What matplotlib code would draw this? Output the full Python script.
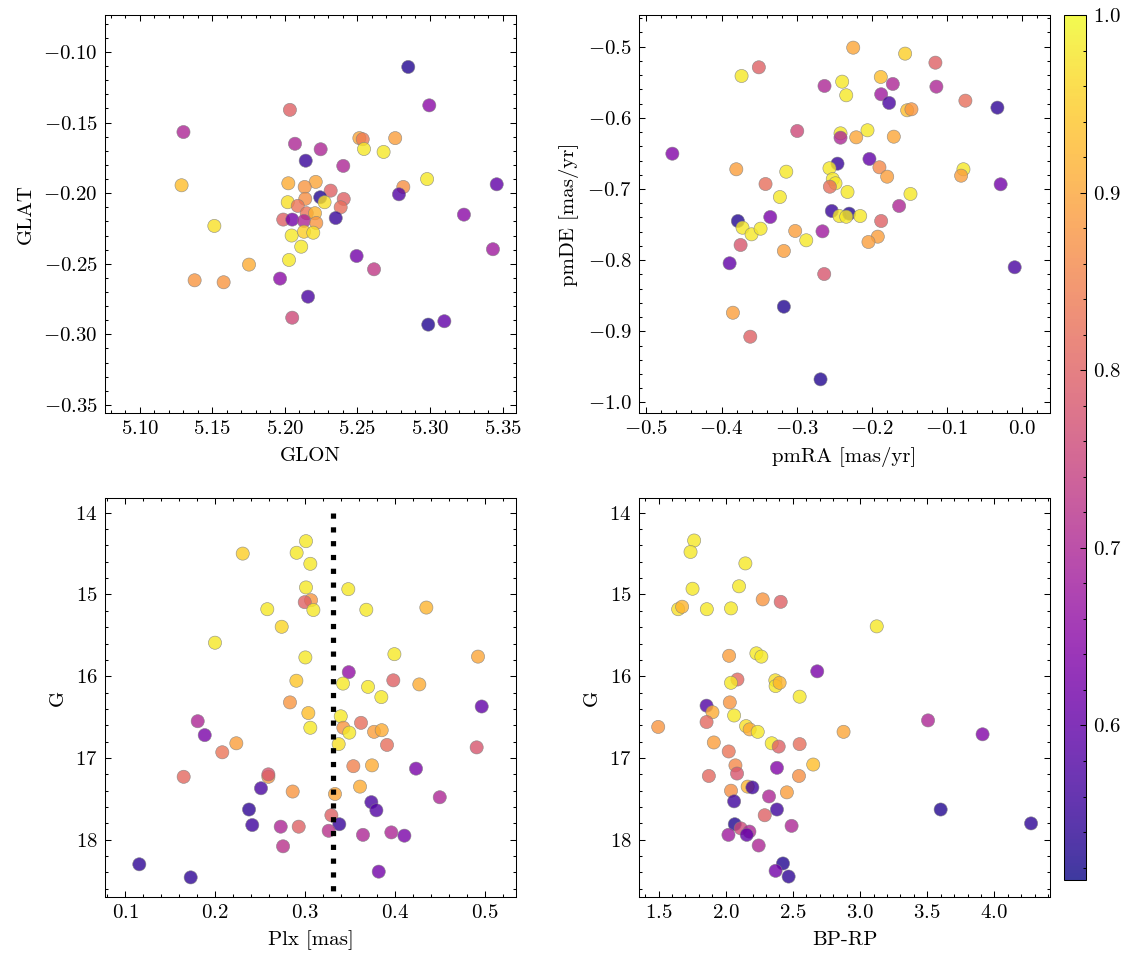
import matplotlib
matplotlib.use("Agg")
import matplotlib.pyplot as plt
from matplotlib.ticker import AutoMinorLocator, MultipleLocator

# science-like style
plt.rcParams.update({
    "font.family": "cmr10",
    "mathtext.fontset": "cm",
    "axes.formatter.use_mathtext": True,
    "font.size": 10,
    "axes.linewidth": 0.5,
    "xtick.direction": "in",
    "ytick.direction": "in",
    "xtick.top": True,
    "ytick.right": True,
    "xtick.major.size": 3,
    "ytick.major.size": 3,
    "xtick.minor.size": 1.5,
    "ytick.minor.size": 1.5,
    "xtick.major.width": 0.5,
    "ytick.major.width": 0.5,
    "xtick.minor.width": 0.5,
    "ytick.minor.width": 0.5,
    "xtick.minor.visible": True,
    "ytick.minor.visible": True,
})

# panel 1: GLON / GLAT
glon = [5.285, 5.2995, 5.2034, 5.130, 5.2069, 5.2246, 5.2143, 5.2402, 5.2513, 5.2536,
        5.2545, 5.268, 5.276, 5.1287, 5.1513, 5.298, 5.2816, 5.2786, 5.346, 5.3234,
        5.2023, 5.2212, 5.2136, 5.2315, 5.2405, 5.2384, 5.2243, 5.2273, 5.2019, 5.214,
        5.2088, 5.215, 5.2207, 5.235, 5.1988, 5.205, 5.2131, 5.2216, 5.2046, 5.2131,
        5.2195, 5.2112, 5.2028, 5.1752, 5.1377, 5.1577, 5.1966, 5.2494, 5.2614, 5.2159,
        5.205, 5.2988, 5.3099, 5.3434]
glat = [-0.1106, -0.1378, -0.141, -0.1567, -0.165, -0.1689, -0.177, -0.1807, -0.161, -0.1618,
        -0.1687, -0.1708, -0.161, -0.1944, -0.2232, -0.190, -0.1956, -0.2008, -0.1937, -0.2152,
        -0.193, -0.192, -0.1956, -0.1982, -0.2041, -0.210, -0.2029, -0.2064, -0.2064, -0.204,
        -0.209, -0.2142, -0.2142, -0.2176, -0.2187, -0.2187, -0.2197, -0.2211, -0.230, -0.2273,
        -0.228, -0.2379, -0.2473, -0.2506, -0.2617, -0.2631, -0.2605, -0.2445, -0.2539, -0.2733,
        -0.2882, -0.2931, -0.2907, -0.2397]
prob1 = [0.53, 0.65, 0.80, 0.70, 0.70, 0.70, 0.55, 0.70, 0.90, 0.84,
         0.98, 0.98, 0.89, 0.93, 0.97, 0.98, 0.87, 0.58, 0.60, 0.65,
         0.91, 0.90, 0.88, 0.80, 0.80, 0.82, 0.53, 0.97, 0.97, 0.87,
         0.83, 0.83, 0.92, 0.55, 0.80, 0.62, 0.70, 0.88, 0.98, 0.95,
         0.97, 0.98, 0.98, 0.91, 0.88, 0.88, 0.65, 0.62, 0.73, 0.57,
         0.76, 0.53, 0.60, 0.68]

# panel 2: proper motions
pmra = [-0.4654, -0.3733, -0.3503, -0.3803, -0.3138, -0.3414, -0.3223, -0.2992, -0.2629, -0.2247,
        -0.2394, -0.234, -0.188, -0.1556, -0.1153, -0.172, -0.114, -0.1875, -0.1769, -0.1529,
        -0.1472, -0.0754, -0.0328, -0.2416, -0.2416, -0.2207, -0.2057, -0.1707, -0.2456, -0.2031,
        -0.2563, -0.2519, -0.2483, -0.2558, -0.2323, -0.1898, -0.1795, -0.1485, -0.078, -0.0811,
        -0.0285, -0.1636, -0.3782, -0.372, -0.36, -0.348, -0.3351, -0.3746, -0.3892, -0.3019,
        -0.317, -0.2872, -0.2656, -0.2532, -0.2430, -0.2301, -0.234, -0.2154, -0.1875, -0.192,
        -0.2044, -0.2633, -0.0098, -0.3848, -0.317, -0.3617, -0.2682]
pmde = [-0.6504, -0.5412, -0.529, -0.6723, -0.6757, -0.693, -0.7113, -0.6185, -0.5552, -0.5014,
        -0.5492, -0.5683, -0.5426, -0.5098, -0.5225, -0.5524, -0.5562, -0.5669, -0.5791, -0.5894,
        -0.588, -0.5759, -0.5857, -0.6218, -0.6279, -0.6274, -0.6175, -0.6265, -0.6644, -0.6578,
        -0.6709, -0.686, -0.692, -0.6968, -0.7042, -0.6695, -0.6827, -0.707, -0.6723, -0.6813,
        -0.6934, -0.7239, -0.745, -0.7544, -0.7637, -0.7558, -0.7394, -0.7787, -0.8044, -0.759,
        -0.7871, -0.7721, -0.7595, -0.7309, -0.738, -0.7347, -0.739, -0.738, -0.745, -0.767,
        -0.7745, -0.8195, -0.81, -0.8739, -0.8654, -0.9076, -0.9675]
prob2 = [0.64, 0.98, 0.80, 0.89, 0.98, 0.82, 0.98, 0.76, 0.70, 0.90,
         0.98, 0.98, 0.93, 0.95, 0.80, 0.70, 0.70, 0.68, 0.57, 0.93,
         0.88, 0.82, 0.54, 0.98, 0.70, 0.90, 0.98, 0.90, 0.55, 0.60,
         0.98, 0.98, 0.98, 0.82, 0.98, 0.86, 0.89, 0.98, 0.98, 0.89,
         0.62, 0.70, 0.53, 0.98, 0.98, 0.98, 0.63, 0.78, 0.60, 0.89,
         0.89, 0.98, 0.68, 0.55, 0.98, 0.53, 0.98, 0.98, 0.80, 0.89,
         0.89, 0.78, 0.57, 0.89, 0.53, 0.80, 0.53]

# panel 3: parallax / G
plx = [0.3011, 0.2308, 0.2907, 0.3059, 0.3011, 0.3481, 0.3067, 0.2997, 0.3093, 0.2581,
       0.3681, 0.4348, 0.2741, 0.20, 0.3004, 0.3993, 0.4922, 0.3486, 0.2904, 0.3422,
       0.37, 0.3981, 0.427, 0.3848, 0.2833, 0.4963, 0.3037, 0.3059, 0.3397, 0.3426,
       0.3492, 0.3374, 0.3622, 0.3767, 0.3852, 0.3911, 0.4907, 0.1808, 0.1886, 0.2237,
       0.2081, 0.1652, 0.2593, 0.2593, 0.2511, 0.2863, 0.3537, 0.3744, 0.4233, 0.3611,
       0.3333, 0.4497, 0.2378, 0.3737, 0.3793, 0.3293, 0.2414, 0.273, 0.293, 0.3381,
       0.3263, 0.3644, 0.3959, 0.4104, 0.2756, 0.3819, 0.1159, 0.173]
g_plx = [14.348, 14.50, 14.49, 14.625, 14.914, 14.935, 15.07, 15.094, 15.19, 15.18,
         15.187, 15.16, 15.395, 15.59, 15.77, 15.73, 15.76, 15.95, 16.055, 16.09,
         16.13, 16.05, 16.10, 16.255, 16.32, 16.37, 16.45, 16.63, 16.49, 16.63,
         16.69, 16.83, 16.57, 16.68, 16.66, 16.84, 16.87, 16.55, 16.72, 16.82,
         16.93, 17.23, 17.23, 17.20, 17.37, 17.41, 17.10, 17.09, 17.13, 17.35,
         17.44, 17.48, 17.63, 17.54, 17.64, 17.70, 17.82, 17.84, 17.84, 17.81,
         17.89, 17.94, 17.91, 17.95, 18.08, 18.39, 18.30, 18.46]
prob3 = [0.98, 0.95, 0.98, 0.98, 0.98, 0.98, 0.88, 0.80, 0.98, 0.98,
         0.98, 0.92, 0.96, 0.98, 0.98, 0.98, 0.90, 0.66, 0.94, 0.98,
         0.98, 0.80, 0.91, 0.98, 0.88, 0.60, 0.93, 0.98, 0.98, 0.88,
         0.98, 0.97, 0.82, 0.89, 0.91, 0.82, 0.78, 0.70, 0.63, 0.89,
         0.83, 0.81, 0.88, 0.78, 0.57, 0.88, 0.85, 0.91, 0.63, 0.91,
         0.90, 0.70, 0.54, 0.57, 0.58, 0.80, 0.56, 0.70, 0.80, 0.55,
         0.72, 0.70, 0.70, 0.63, 0.72, 0.62, 0.54, 0.54]
plx_cut = 0.331

# panel 4: colour-magnitude
bprp = [1.7645, 1.7377, 2.146, 1.7526, 2.0988, 1.6456, 1.675, 1.859, 2.039, 2.275,
        2.409, 3.124, 2.025, 2.228, 2.265, 2.681, 2.087, 2.039, 2.369, 2.371,
        2.401, 2.55, 2.03, 1.857, 1.901, 2.062, 1.497, 1.857, 2.151, 2.178,
        2.238, 2.877, 3.506, 3.912, 1.911, 2.342, 2.394, 2.55, 2.022, 2.651,
        2.072, 2.084, 2.381, 1.874, 2.545, 2.163, 2.198, 2.039, 2.455, 2.322,
        2.062, 2.381, 2.29, 3.6, 4.273, 2.067, 2.111, 2.176, 2.156, 2.02,
        2.49, 2.245, 2.426, 2.371, 2.468]
g_cmd = [14.34, 14.48, 14.62, 14.93, 14.90, 15.18, 15.15, 15.18, 15.17, 15.06,
         15.09, 15.39, 15.75, 15.72, 15.76, 15.94, 16.04, 16.08, 16.05, 16.12,
         16.08, 16.25, 16.32, 16.36, 16.44, 16.48, 16.62, 16.56, 16.61, 16.65,
         16.68, 16.68, 16.54, 16.71, 16.81, 16.82, 16.86, 16.83, 16.92, 17.08,
         17.09, 17.19, 17.12, 17.22, 17.22, 17.35, 17.36, 17.40, 17.42, 17.47,
         17.53, 17.63, 17.70, 17.63, 17.80, 17.81, 17.86, 17.90, 17.94, 17.94,
         17.83, 18.07, 18.29, 18.38, 18.45]
prob4 = [0.98, 0.98, 0.98, 0.98, 0.98, 0.97, 0.92, 0.98, 0.98, 0.88,
         0.80, 0.98, 0.89, 0.98, 0.98, 0.63, 0.81, 0.98, 0.97, 0.98,
         0.92, 0.98, 0.88, 0.58, 0.91, 0.98, 0.88, 0.81, 0.97, 0.91,
         0.98, 0.90, 0.70, 0.64, 0.89, 0.98, 0.80, 0.82, 0.83, 0.93,
         0.86, 0.78, 0.64, 0.81, 0.87, 0.92, 0.56, 0.87, 0.89, 0.70,
         0.56, 0.56, 0.80, 0.53, 0.54, 0.53, 0.76, 0.70, 0.60, 0.68,
         0.70, 0.70, 0.53, 0.62, 0.54]

vmin, vmax = 0.513, 1.0
kw = dict(cmap="plasma", vmin=vmin, vmax=vmax, s=40, alpha=0.8,
          edgecolors="gray", linewidths=0.3)

fig = plt.figure(figsize=(1133 / 150, 965 / 150), dpi=150)
W, H = 1133, 965
def box(l, r, t, b):
    return [l / W, 1 - b / H, (r - l) / W, (b - t) / H]

ax1 = fig.add_axes(box(105, 516, 15, 413))
ax2 = fig.add_axes(box(639, 1050, 15, 413))
ax3 = fig.add_axes(box(105, 516, 498, 897))
ax4 = fig.add_axes(box(639, 1050, 498, 897))
cax = fig.add_axes(box(1064, 1086, 15, 880))

sc = ax1.scatter(glon, glat, c=prob1, **kw)
ax1.set_xlim(5.0759, 5.3593)
ax1.set_ylim(-0.3557, -0.0738)
ax1.xaxis.set_major_locator(MultipleLocator(0.05))
ax1.yaxis.set_major_locator(MultipleLocator(0.05))
ax1.set_xlabel("GLON")
ax1.set_ylabel("GLAT")

ax2.scatter(pmra, pmde, c=prob2, **kw)
ax2.set_xlim(-0.5098, 0.0372)
ax2.set_ylim(-1.0148, -0.4555)
ax2.xaxis.set_major_locator(MultipleLocator(0.1))
ax2.yaxis.set_major_locator(MultipleLocator(0.1))
ax2.set_xlabel("pmRA [mas/yr]")
ax2.set_ylabel("pmDE [mas/yr]")

ax3.scatter(plx, g_plx, c=prob3, **kw)
ax3.vlines(plx_cut, 14.0, 18.8, colors="k", linestyles=":", linewidth=2.5)
ax3.set_xlim(0.0778, 0.5344)
ax3.set_ylim(18.70, 13.82)
ax3.xaxis.set_major_locator(MultipleLocator(0.1))
ax3.yaxis.set_major_locator(MultipleLocator(1))
ax3.set_xlabel("Plx [mas]")
ax3.set_ylabel("G")

ax4.scatter(bprp, g_cmd, c=prob4, **kw)
ax4.set_xlim(1.354, 4.414)
ax4.set_ylim(18.70, 13.82)
ax4.xaxis.set_major_locator(MultipleLocator(0.5))
ax4.yaxis.set_major_locator(MultipleLocator(1))
ax4.set_xlabel("BP-RP")
ax4.set_ylabel("G")

for ax in (ax1, ax2, ax3, ax4):
    ax.xaxis.set_minor_locator(AutoMinorLocator(5))
    ax.yaxis.set_minor_locator(AutoMinorLocator(5))

cb = fig.colorbar(sc, cax=cax)
cb.set_ticks([0.6, 0.7, 0.8, 0.9, 1.0])
cb.ax.yaxis.set_minor_locator(MultipleLocator(0.02))
cb.ax.tick_params(which="both", direction="in", left=False, right=True)
cb.outline.set_linewidth(0.5)

fig.savefig("out.png", dpi=150)
